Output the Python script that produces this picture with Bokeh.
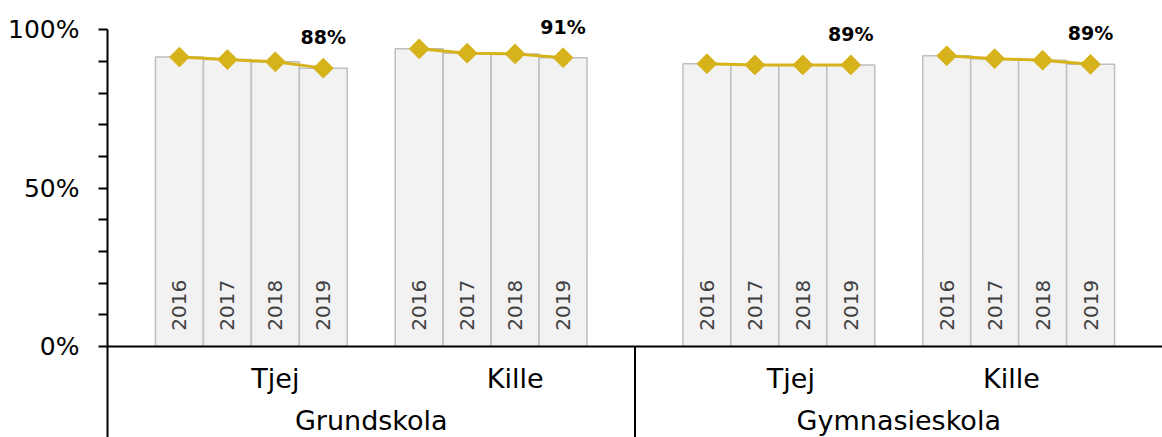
import numpy as np
from bokeh.plotting import figure
from bokeh.models import ColumnDataSource, FixedTicker, Span, Range1d
from bokeh.core.properties import value
from bokeh.embed import file_html
from bokeh.resources import INLINE

# ---------------- data ----------------
schools = ["Grundskola", "Gymnasieskola"]
genders = ["Tjej", "Kille"]
years = ["2016", "2017", "2018", "2019"]
grundskola_tjej = [91.4, 90.6, 89.9, 87.9]
grundskola_kille = [94.0, 92.6, 92.4, 91.2]
gymnasieskola_tjej = [89.3, 88.9, 88.9, 88.9]
gymnasieskola_kille = [91.8, 90.9, 90.4, 89.1]
y_ticks = [0, 10, 20, 30, 40, 50, 60, 70, 80, 90, 100]
y_tick_labels = {0: "0%", 50: "50%", 100: "100%"}

series = {
    ("Grundskola", "Tjej"): grundskola_tjej,
    ("Grundskola", "Kille"): grundskola_kille,
    ("Gymnasieskola", "Tjej"): gymnasieskola_tjej,
    ("Gymnasieskola", "Kille"): gymnasieskola_kille,
}

# ---------------- layout / style ----------------
GOLD = "#D6B21B"
FONT = value("DejaVu Sans")
Y_START, Y_END = -28.7, 109.25
GROUP_W = 11.0          # width of a school group in bar units
SUB_OFFSET = 5.0        # offset of Kille sub-group
FIRST = 1.5             # first bar centre
# label centre offsets relative to the sub-group's bar centre (Excel quirk)
sub_label_shift = {("Grundskola", "Tjej"): 0.5, ("Grundskola", "Kille"): 0.5,
                   ("Gymnasieskola", "Tjej"): 0.25, ("Gymnasieskola", "Kille"): -0.15}

p = figure(width=1162, height=437, output_backend="svg", toolbar_location=None,
           x_range=Range1d(0, 2 * GROUP_W), y_range=Range1d(Y_START, Y_END),
           x_axis_location=None, min_border_left=107, min_border_right=0,
           min_border_top=0, min_border_bottom=0)
p.outline_line_color = None
p.xgrid.visible = False
p.ygrid.visible = False

bx, bv, by = [], [], []
for gi, school in enumerate(schools):
    for si, gender in enumerate(genders):
        vals = series[(school, gender)]
        xs = [FIRST + gi * GROUP_W + si * SUB_OFFSET + i for i in range(len(years))]
        bx += xs
        bv += vals
        by += years

src = ColumnDataSource(dict(x=bx, v=bv, year=by))
p.vbar(x="x", top="v", bottom=0, width=1.0, source=src,
       fill_color="#F2F2F2", line_color="#BFBFBF", line_width=1.5)

p.text(x="x", y=5, text="year", source=src, angle=np.pi / 2,
       text_align="left", text_baseline="middle", text_font=FONT,
       text_font_size="20px", text_color="#404040")

for gi, school in enumerate(schools):
    for si, gender in enumerate(genders):
        vals = series[(school, gender)]
        xs = [FIRST + gi * GROUP_W + si * SUB_OFFSET + i for i in range(len(years))]
        p.line(xs, vals, line_color=GOLD, line_width=3)
        p.scatter(xs, vals, marker="square", angle=np.pi / 4, size=14,
                  fill_color=GOLD, line_color=GOLD)
        p.text(x=[xs[-1]], y=[vals[-1]], text=[f"{round(vals[-1])}%"],
               text_align="center", text_baseline="middle", y_offset=-31,
               text_font=FONT, text_font_style="bold", text_font_size="19px",
               text_color="black")
        cx = (xs[0] + xs[-1]) / 2 + sub_label_shift[(school, gender)]
        p.text(x=[cx], y=[-10.1], text=[gender], text_align="center",
               text_baseline="middle", text_font=FONT, text_font_size="27px",
               text_color="black")
    p.text(x=[gi * GROUP_W + GROUP_W / 2], y=[-23.3], text=[school],
           text_align="center", text_baseline="middle", text_font=FONT,
           text_font_size="27px", text_color="black")

# x axis line and group separator
p.add_layout(Span(location=0, dimension="width", line_color="black", line_width=2))
p.segment(x0=[GROUP_W], y0=[0], x1=[GROUP_W], y1=[Y_START],
          line_color="black", line_width=2)

# y axis
ax = p.yaxis[0]
ax.ticker = FixedTicker(ticks=y_ticks)
ax.major_label_overrides = {t: y_tick_labels.get(t, "") for t in y_ticks}
ax.bounds = (Y_START, 100)
ax.axis_line_color = "black"
ax.axis_line_width = 2
ax.major_tick_line_color = "black"
ax.major_tick_line_width = 2
ax.major_tick_in = 0
ax.major_tick_out = 9
ax.minor_tick_out = 0
ax.minor_tick_in = 0
ax.major_label_standoff = 19
ax.major_label_text_font = "DejaVu Sans"
ax.major_label_text_font_size = "25px"
ax.major_label_text_color = "black"

open("out.html", "w").write(file_html(p, INLINE))
